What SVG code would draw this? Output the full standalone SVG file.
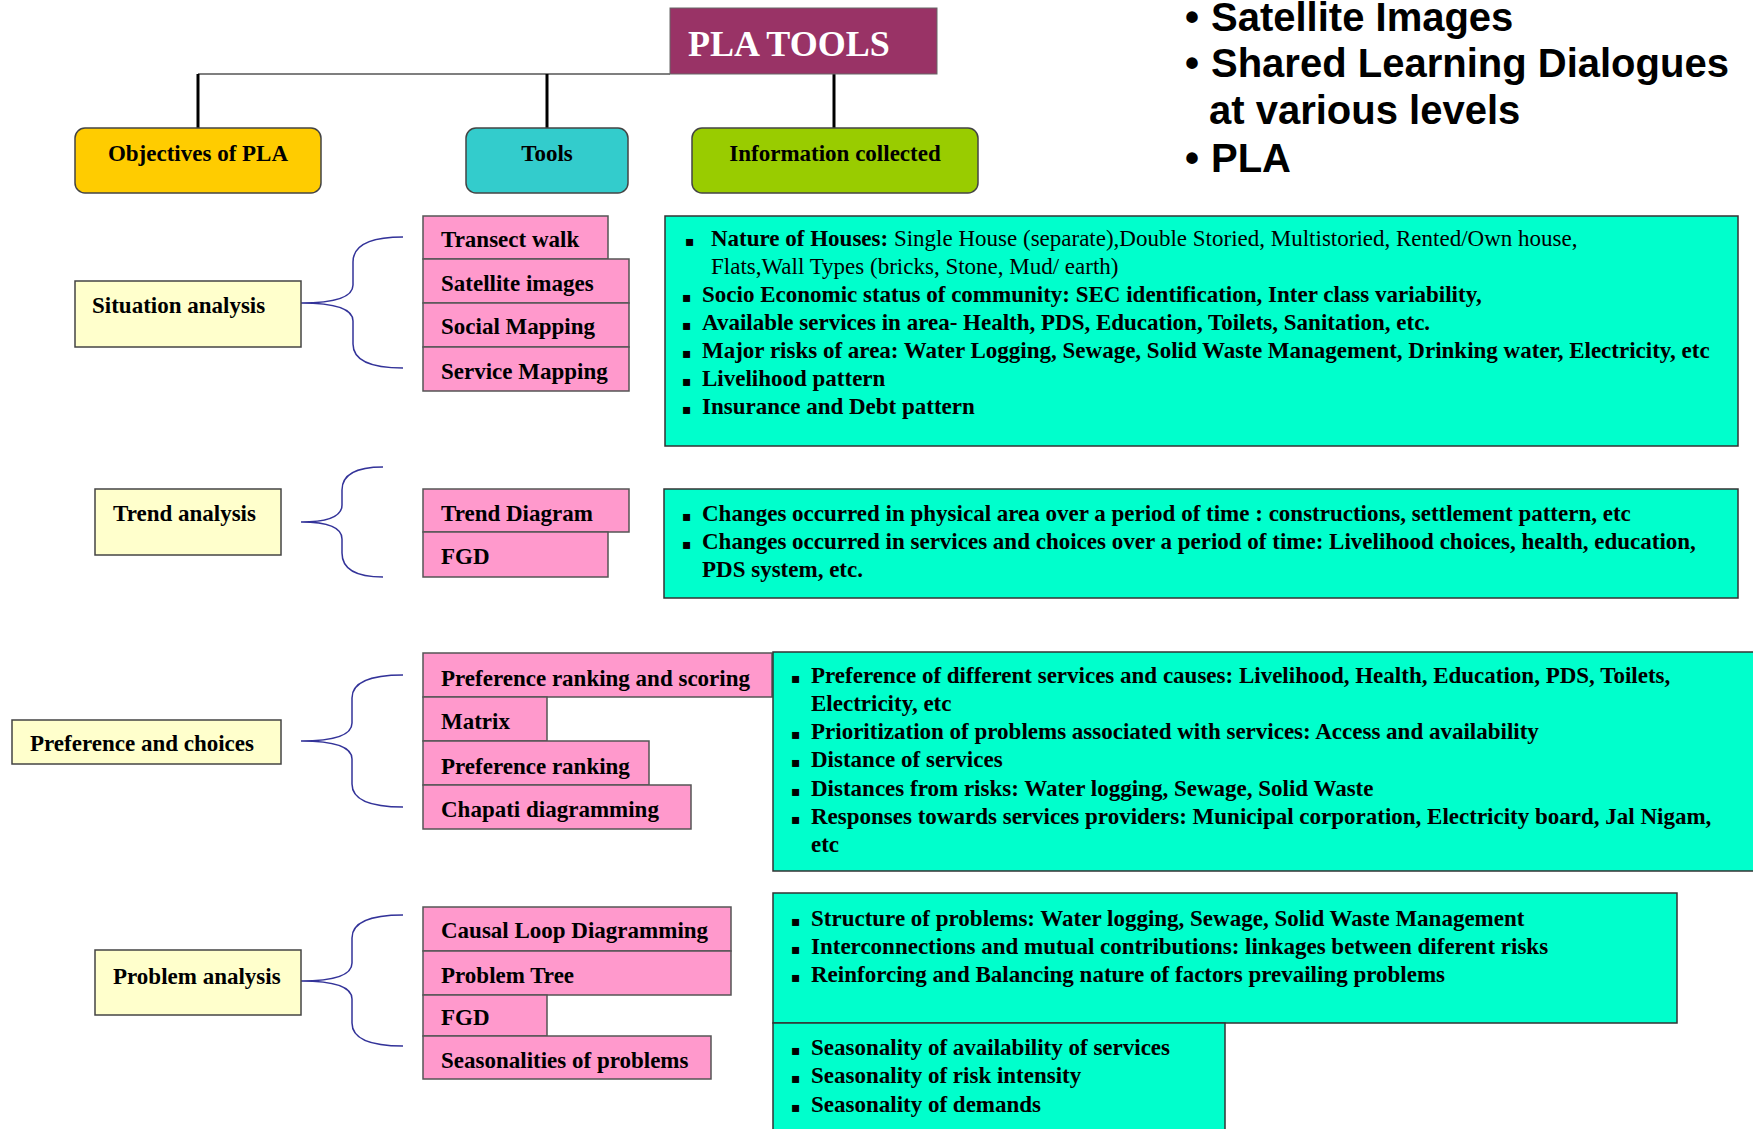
<svg xmlns="http://www.w3.org/2000/svg" width="1753" height="1129" viewBox="0 0 1753 1129">
<style>
.t{font-family:"Liberation Serif","Times New Roman",serif;font-weight:bold;font-size:23px;fill:#000}
.n{font-weight:normal}
.b{font-family:"DejaVu Sans",sans-serif;font-size:14px;fill:#000}
.big{font-family:"Liberation Sans",Arial,sans-serif;font-weight:bold;font-size:40px;fill:#000}
.hd{stroke:#444;stroke-width:1.5}
.obj{fill:#FFFFCC;stroke:#444;stroke-width:1.5}
.pk{fill:#FF99CC;stroke:#555;stroke-width:1.5}
.inf{fill:#00FFCC;stroke:#333;stroke-width:1.5}
.br{fill:none;stroke:#333399;stroke-width:1.5}
</style>
<rect width="1753" height="1129" fill="#fff"/>

<g id="connectors">
  <line x1="198" y1="74" x2="670" y2="74" stroke="#555" stroke-width="1.5"/>
  <line x1="198" y1="74" x2="198" y2="128" stroke="#000" stroke-width="3"/>
  <line x1="547" y1="74" x2="547" y2="128" stroke="#000" stroke-width="3"/>
  <line x1="834" y1="74" x2="834" y2="128" stroke="#000" stroke-width="3"/>
  <path class="br" d="M403,237 Q353,237 353,262 L353,285 Q353,303 301,303 Q353,303 353,321 L353,344 Q353,368 403,368"/>
  <path class="br" d="M383,467 Q342,467 342,490 L342,505 Q342,522 301,522 Q342,522 342,539 L342,553 Q342,577 383,577"/>
  <path class="br" d="M403,675 Q352,675 352,698 L352,723 Q352,741 301,741 Q352,741 352,759 L352,784 Q352,807 403,807"/>
  <path class="br" d="M403,915 Q352,915 352,938 L352,963 Q352,981 301,981 Q352,981 352,999 L352,1023 Q352,1046 403,1046"/>
</g>

<g id="pla-tools">
  <rect x="670" y="8" width="267" height="66" fill="#993366" stroke="#666" stroke-width="1"/>
  <text x="688" y="56" class="t" style="font-size:36px;fill:#fff">PLA TOOLS</text>
</g>

<g id="header-objectives">
  <rect x="75" y="128" width="246" height="65" rx="10" fill="#FFCC00" class="hd"/>
  <text x="198" y="161" class="t" text-anchor="middle">Objectives of PLA</text>
</g>
<g id="header-tools">
  <rect x="466" y="128" width="162" height="65" rx="10" fill="#33CCCC" class="hd"/>
  <text x="547" y="161" class="t" text-anchor="middle">Tools</text>
</g>
<g id="header-info">
  <rect x="692" y="128" width="286" height="65" rx="10" fill="#99CC00" class="hd"/>
  <text x="835" y="161" class="t" text-anchor="middle">Information collected</text>
</g>

<g id="notes">
  <text x="1185" y="31" class="big">•</text><text x="1211" y="31" class="big">Satellite Images</text>
  <text x="1185" y="77" class="big">•</text><text x="1211" y="77" class="big">Shared Learning Dialogues</text>
  <text x="1209" y="124" class="big">at various levels</text>
  <text x="1185" y="172" class="big">•</text><text x="1211" y="172" class="big">PLA</text>
</g>

<!-- Situation -->
<g id="situation-analysis">
  <rect x="75" y="281" width="226" height="66" class="obj"/>
  <text x="92" y="313" class="t">Situation analysis</text>
</g>
<g id="tool-transect"><rect x="423" y="216" width="185" height="43" class="pk"/><text x="441" y="247" class="t">Transect walk</text></g>
<g id="tool-satellite"><rect x="423" y="259" width="206" height="44" class="pk"/><text x="441" y="291" class="t">Satellite images</text></g>
<g id="tool-social"><rect x="423" y="303" width="206" height="44" class="pk"/><text x="441" y="334" class="t">Social Mapping</text></g>
<g id="tool-service"><rect x="423" y="347" width="206" height="44" class="pk"/><text x="441" y="379" class="t">Service Mapping</text></g>
<g id="info-situation">
  <rect x="665" y="216" width="1073" height="230" class="inf"/>
  <text x="685" y="246" class="b">▪</text>
  <text x="711" y="246" class="t">Nature of Houses: <tspan class="n">Single House (separate),Double Storied, Multistoried, Rented/Own house,</tspan></text>
  <text x="711" y="274" class="t n">Flats,Wall Types (bricks, Stone, Mud/ earth)</text>
  <text x="682" y="302" class="b">▪</text><text x="702" y="302" class="t">Socio Economic status of community: SEC identification, Inter class variability,</text>
  <text x="682" y="330" class="b">▪</text><text x="702" y="330" class="t">Available services in area- Health, PDS, Education, Toilets, Sanitation, etc.</text>
  <text x="682" y="358" class="b">▪</text><text x="702" y="358" class="t">Major risks of area: Water Logging, Sewage, Solid Waste Management, Drinking water, Electricity, etc</text>
  <text x="682" y="386" class="b">▪</text><text x="702" y="386" class="t">Livelihood pattern</text>
  <text x="682" y="414" class="b">▪</text><text x="702" y="414" class="t">Insurance and Debt pattern</text>
</g>

<!-- Trend -->
<g id="trend-analysis">
  <rect x="95" y="489" width="186" height="66" class="obj"/>
  <text x="113" y="521" class="t">Trend analysis</text>
</g>
<g id="tool-trend"><rect x="423" y="489" width="206" height="43" class="pk"/><text x="441" y="521" class="t">Trend Diagram</text></g>
<g id="tool-fgd1"><rect x="423" y="532" width="185" height="45" class="pk"/><text x="441" y="564" class="t">FGD</text></g>
<g id="info-trend">
  <rect x="664" y="489" width="1074" height="109" class="inf"/>
  <text x="682" y="521" class="b">▪</text><text x="702" y="521" class="t">Changes occurred in physical area over a period of time : constructions, settlement pattern, etc</text>
  <text x="682" y="549" class="b">▪</text><text x="702" y="549" class="t">Changes occurred in services and choices over a period of time: Livelihood choices, health, education,</text>
  <text x="702" y="577" class="t">PDS system, etc.</text>
</g>

<!-- Preference -->
<g id="preference-choices">
  <rect x="12" y="720" width="269" height="44" class="obj"/>
  <text x="30" y="751" class="t">Preference and choices</text>
</g>
<g id="tool-prefscore"><rect x="423" y="653" width="349" height="44" class="pk"/><text x="441" y="686" class="t">Preference ranking and scoring</text></g>
<g id="tool-matrix"><rect x="423" y="697" width="124" height="44" class="pk"/><text x="441" y="729" class="t">Matrix</text></g>
<g id="tool-prefrank"><rect x="423" y="741" width="226" height="44" class="pk"/><text x="441" y="774" class="t">Preference ranking</text></g>
<g id="tool-chapati"><rect x="423" y="785" width="268" height="44" class="pk"/><text x="441" y="817" class="t">Chapati diagramming</text></g>
<g id="info-preference">
  <rect x="773" y="652" width="990" height="219" class="inf"/>
  <text x="791" y="683" class="b">▪</text><text x="811" y="683" class="t">Preference of different services and causes: Livelihood, Health, Education, PDS, Toilets,</text>
  <text x="811" y="711" class="t">Electricity, etc</text>
  <text x="791" y="739" class="b">▪</text><text x="811" y="739" class="t">Prioritization of problems associated with services: Access and availability</text>
  <text x="791" y="767" class="b">▪</text><text x="811" y="767" class="t">Distance of services</text>
  <text x="791" y="796" class="b">▪</text><text x="811" y="796" class="t">Distances from risks: Water logging, Sewage, Solid Waste</text>
  <text x="791" y="824" class="b">▪</text><text x="811" y="824" class="t">Responses towards services providers: Municipal corporation, Electricity board,  Jal Nigam,</text>
  <text x="811" y="852" class="t">etc</text>
</g>

<!-- Problem -->
<g id="problem-analysis">
  <rect x="95" y="950" width="206" height="65" class="obj"/>
  <text x="113" y="984" class="t">Problem analysis</text>
</g>
<g id="tool-causal"><rect x="423" y="907" width="308" height="44" class="pk"/><text x="441" y="938" class="t">Causal Loop Diagramming</text></g>
<g id="tool-tree"><rect x="423" y="951" width="308" height="44" class="pk"/><text x="441" y="983" class="t">Problem Tree</text></g>
<g id="tool-fgd2"><rect x="423" y="995" width="124" height="41" class="pk"/><text x="441" y="1025" class="t">FGD</text></g>
<g id="tool-season"><rect x="423" y="1036" width="288" height="43" class="pk"/><text x="441" y="1068" class="t">Seasonalities of problems</text></g>
<g id="info-problem">
  <rect x="773" y="893" width="904" height="130" class="inf"/>
  <text x="791" y="926" class="b">▪</text><text x="811" y="926" class="t">Structure of problems: Water logging, Sewage, Solid Waste Management</text>
  <text x="791" y="954" class="b">▪</text><text x="811" y="954" class="t">Interconnections and mutual contributions: linkages between diferent risks</text>
  <text x="791" y="982" class="b">▪</text><text x="811" y="982" class="t">Reinforcing and Balancing nature of factors prevailing problems</text>
</g>
<g id="info-seasonality">
  <rect x="773" y="1023" width="452" height="115" class="inf"/>
  <text x="791" y="1055" class="b">▪</text><text x="811" y="1055" class="t">Seasonality of availability of services</text>
  <text x="791" y="1083" class="b">▪</text><text x="811" y="1083" class="t">Seasonality of risk intensity</text>
  <text x="791" y="1112" class="b">▪</text><text x="811" y="1112" class="t">Seasonality of demands</text>
</g>
</svg>
